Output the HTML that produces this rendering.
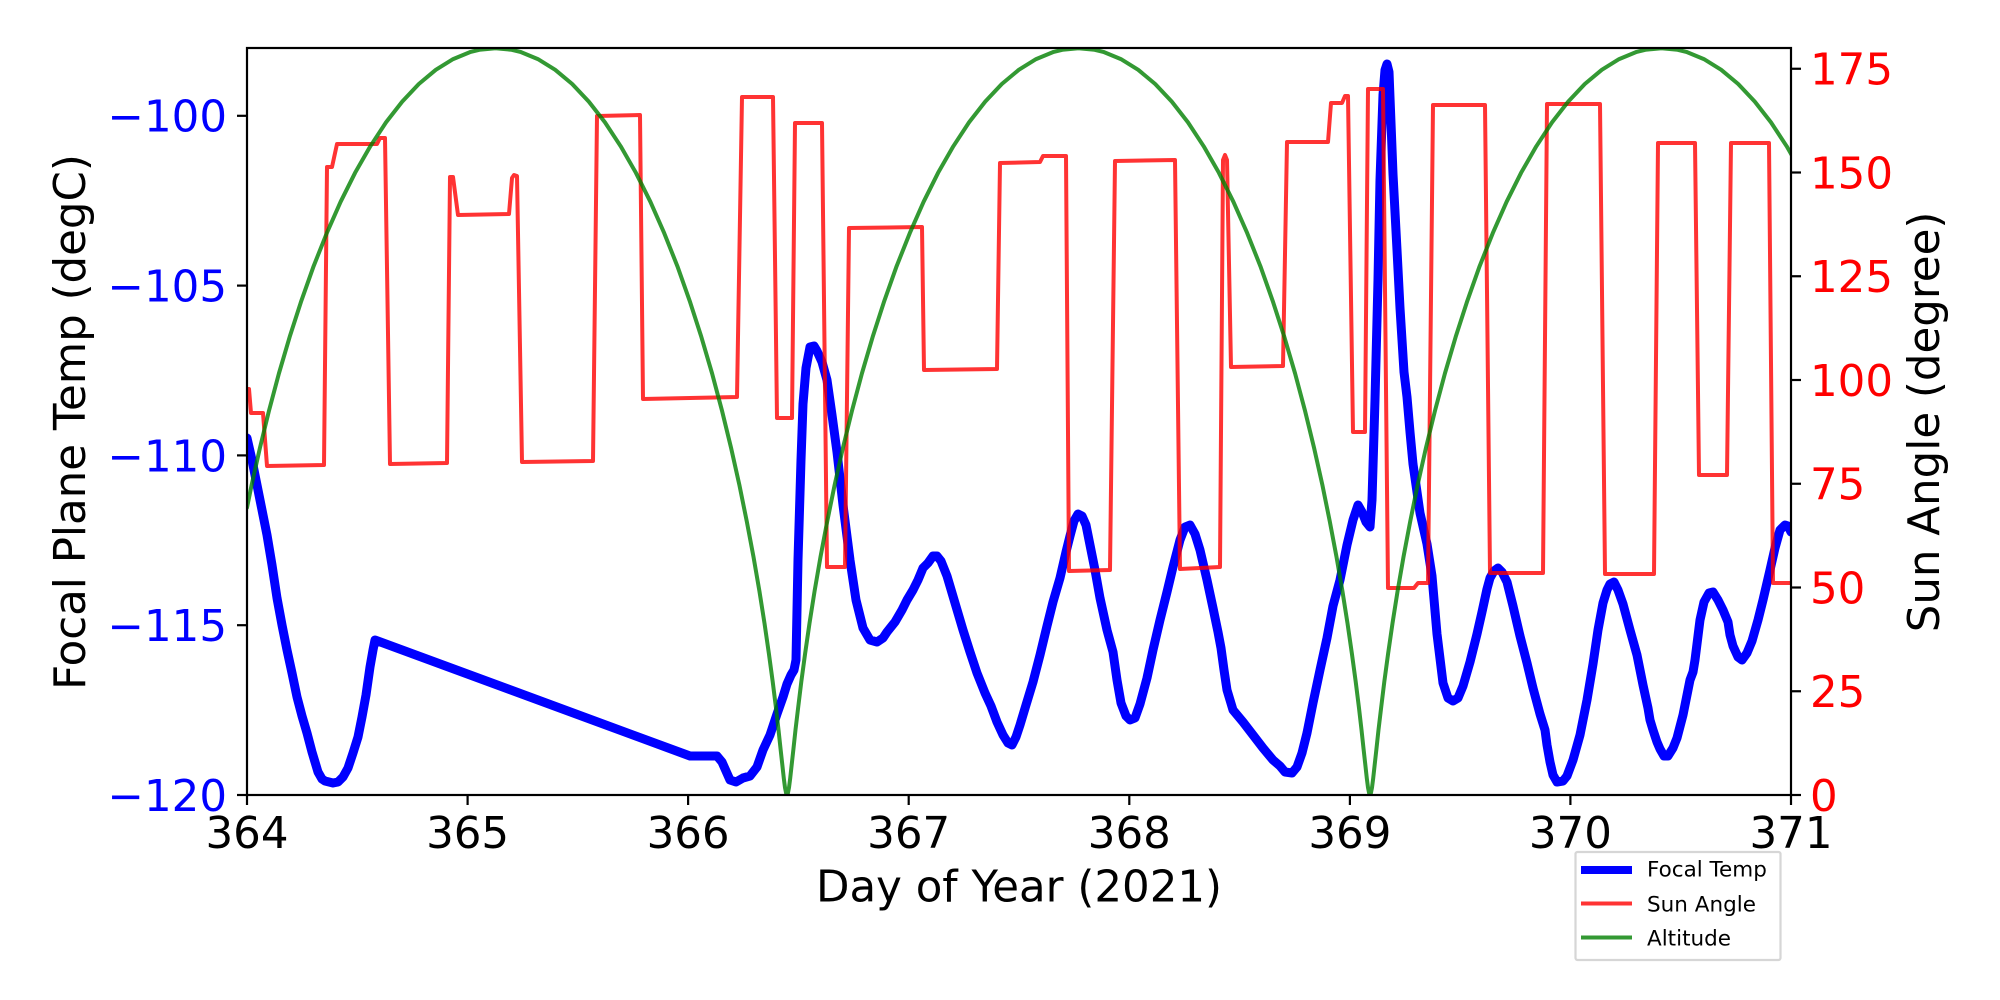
<!DOCTYPE html>
<html>
<head>
<meta charset="utf-8">
<style>
html,body{margin:0;padding:0;background:#fff;}
svg{display:block;}
text{font-family:"DejaVu Sans","Liberation Sans",sans-serif;}
</style>
</head>
<body>
<svg width="2000" height="1000" viewBox="0 0 2000 1000" xmlns="http://www.w3.org/2000/svg">
<rect x="0" y="0" width="2000" height="1000" fill="#fff"/>
<defs>
<clipPath id="ax"><rect x="247" y="48" width="1544" height="747"/></clipPath>
</defs>

<g clip-path="url(#ax)" fill="none" stroke-linejoin="round" stroke-linecap="round">
<!-- Focal Temp -->
<polyline stroke="#0000ff" stroke-width="9" points="247,438 252,460 258,490 263,515 267,535 272,565 277,598 282,625 287,650 292,673 297,697 302,716 307,733 312,752 318,772 322,779 325,781 333,783 338,782 343,777 348,768 353,753 358,737 362,717 366,695 370,667 373,650 375,640 690,756 717,756 722,762 730,780 736,782 743,778 750,776 757,767 763,750 770,735 777,714 783,697 787,684 791,675 794,670 796,660 798,560 801,460 803,404 806,368 810,347 814,346 817,351 822,362 827,380 832,415 837,452 843,505 850,560 856,600 863,628 870,640 877,642 883,638 887,632 895,622 902,610 907,600 913,590 918,580 923,568 928,563 933,556 937,556 941,561 947,576 955,603 963,630 970,652 977,673 985,693 991,706 997,722 1003,735 1008,743 1012,745 1016,737 1020,725 1026,705 1033,682 1040,655 1047,626 1053,602 1060,578 1066,552 1070,536 1074,521 1078,514 1082,516 1086,525 1090,545 1095,570 1100,598 1107,630 1113,652 1117,680 1121,703 1126,716 1130,720 1135,718 1140,704 1147,678 1153,650 1160,620 1167,592 1173,567 1180,540 1185,527 1190,525 1195,534 1200,550 1207,580 1213,608 1218,632 1221,648 1224,670 1227,690 1233,710 1243,722 1253,735 1263,748 1273,760 1280,766 1285,772 1292,773 1297,767 1302,753 1307,733 1313,703 1320,670 1327,638 1333,606 1340,580 1347,545 1353,520 1358,505 1362,512 1366,522 1370,527 1372,500 1375,400 1378,280 1380,180 1383,95 1385,70 1387,64 1389,72 1393,174 1397,250 1400,308 1404,372 1407,397 1410,432 1413,464 1417,492 1420,513 1427,544 1432,576 1437,634 1443,683 1448,698 1453,701 1458,698 1463,686 1470,662 1477,634 1482,612 1487,589 1490,578 1494,571 1498,568 1502,572 1507,582 1513,606 1520,636 1527,663 1533,688 1540,714 1545,730 1547,745 1550,762 1553,775 1557,782 1563,781 1567,776 1573,760 1580,735 1587,700 1593,664 1598,630 1603,603 1607,590 1610,584 1614,582 1618,590 1623,604 1630,630 1637,655 1643,685 1648,708 1650,720 1653,730 1657,742 1660,749 1664,756 1668,756 1673,748 1677,738 1683,715 1690,680 1693,672 1695,660 1700,620 1704,602 1709,593 1713,592 1718,600 1723,610 1728,622 1730,635 1733,646 1738,657 1742,660 1747,653 1752,641 1758,620 1763,600 1770,570 1775,548 1780,530 1785,525 1788,526 1791,532"/>
<!-- Sun Angle -->
<polyline stroke="#ff0000" stroke-opacity="0.8" stroke-width="4" points="247,389 249,389 251,413 263,413 267,466 324,465 327,167 332,167 337,144 377,144 380,138 385,138 390,464 447,463 450,177 453,177 458,215 509,214 512,178 514,175 517,176 522,462 593,461 597,116 640,115 643,399 737,397 742,97 773,97 777,418 792,418 795,123 822,123 827,567 845,567 849,228 922,227 924,370 997,369 1000,163 1040,162 1043,156 1066,156 1069,571 1110,570 1115,161 1175,160 1180,569 1220,567 1223,160 1225,155 1227,160 1231,367 1283,366 1287,142 1328,142 1331,103 1342,103 1345,96 1348,96 1353,432 1365,432 1368,89 1383,89 1388,588 1414,588 1418,583 1428,583 1433,105 1485,105 1490,573 1543,573 1547,104 1600,104 1605,574 1654,574 1658,143 1695,143 1699,475 1727,475 1731,143 1769,143 1773,583 1791,583"/>
<!-- Altitude -->
<polyline stroke="#008000" stroke-opacity="0.8" stroke-width="4" points="247,507.6 251.6,485.1 259.9,448.0 269.0,410.7 278.9,373.5 289.7,336.8 301.3,300.9 313.6,266.2 326.8,233.1 340.6,201.8 355.1,172.8 370.3,146.3 386.0,122.4 402.2,101.6 418.8,84.0 435.8,69.8 453.1,59.1 470.6,51.9 479.4,49.8 495.5,48.2 511.6,49.8 520.4,51.9 537.9,59.1 555.2,69.8 572.2,84.0 588.8,101.6 605.0,122.4 620.7,146.3 635.9,172.8 650.4,201.8 664.2,233.1 677.4,266.2 689.7,300.9 701.3,336.8 712.1,373.5 722.0,410.7 731.1,448.0 739.4,485.1 746.8,521.5 753.5,556.9 759.4,591.0 764.5,623.3 768.9,653.7 772.7,681.7 775.9,707.2 778.5,729.8 780.6,749.3 782.4,765.5 783.8,778.3 785.0,787.6 786.1,793.1 787,795 787.9,793.1 789.0,787.6 790.2,778.3 791.6,765.5 793.4,749.3 795.5,729.8 798.2,707.2 801.3,681.7 805.1,653.7 809.5,623.3 814.6,591.0 820.5,556.9 827.2,521.5 834.6,485.1 842.9,448.0 852.0,410.7 861.9,373.5 872.7,336.8 884.3,300.9 896.6,266.2 909.8,233.1 923.6,201.8 938.1,172.8 953.3,146.3 969.0,122.4 985.2,101.6 1001.8,84.0 1018.8,69.8 1036.1,59.1 1053.6,51.9 1062.4,49.8 1078.5,48.2 1094.6,49.8 1103.4,51.9 1120.9,59.1 1138.2,69.8 1155.2,84.0 1171.8,101.6 1188.0,122.4 1203.7,146.3 1218.9,172.8 1233.4,201.8 1247.2,233.1 1260.4,266.2 1272.7,300.9 1284.3,336.8 1295.1,373.5 1305.0,410.7 1314.1,448.0 1322.4,485.1 1329.8,521.5 1336.5,556.9 1342.4,591.0 1347.5,623.3 1351.9,653.7 1355.7,681.7 1358.9,707.2 1361.5,729.8 1363.6,749.3 1365.4,765.5 1366.8,778.3 1368.0,787.6 1369.1,793.1 1370,795 1370.9,793.1 1372.0,787.6 1373.2,778.3 1374.6,765.5 1376.4,749.3 1378.5,729.8 1381.2,707.2 1384.3,681.7 1388.1,653.7 1392.5,623.3 1397.6,591.0 1403.5,556.9 1410.2,521.5 1417.6,485.1 1425.9,448.0 1435.0,410.7 1444.9,373.5 1455.7,336.8 1467.3,300.9 1479.6,266.2 1492.8,233.1 1506.6,201.8 1521.1,172.8 1536.3,146.3 1552.0,122.4 1568.2,101.6 1584.8,84.0 1601.8,69.8 1619.1,59.1 1636.6,51.9 1645.4,49.8 1661.5,48.2 1677.6,49.8 1686.4,51.9 1703.9,59.1 1721.2,69.8 1738.2,84.0 1754.8,101.6 1771.0,122.4 1786.7,146.3 1801.9,172.8"/>
</g>

<!-- axes frame -->
<rect x="247" y="48" width="1544" height="747" fill="none" stroke="#000" stroke-width="2.2"/>

<g stroke="#000" stroke-width="2.2">
<line x1="237" y1="115.8" x2="247" y2="115.8"/>
<line x1="237" y1="285.6" x2="247" y2="285.6"/>
<line x1="237" y1="455.4" x2="247" y2="455.4"/>
<line x1="237" y1="625.2" x2="247" y2="625.2"/>
<line x1="237" y1="795" x2="247" y2="795"/>
<line x1="1791" y1="795" x2="1801" y2="795"/>
<line x1="1791" y1="691.25" x2="1801" y2="691.25"/>
<line x1="1791" y1="587.5" x2="1801" y2="587.5"/>
<line x1="1791" y1="483.75" x2="1801" y2="483.75"/>
<line x1="1791" y1="380" x2="1801" y2="380"/>
<line x1="1791" y1="276.25" x2="1801" y2="276.25"/>
<line x1="1791" y1="172.5" x2="1801" y2="172.5"/>
<line x1="1791" y1="68.75" x2="1801" y2="68.75"/>
<line x1="247" y1="795" x2="247" y2="805"/>
<line x1="467.6" y1="795" x2="467.6" y2="805"/>
<line x1="688.1" y1="795" x2="688.1" y2="805"/>
<line x1="908.7" y1="795" x2="908.7" y2="805"/>
<line x1="1129.3" y1="795" x2="1129.3" y2="805"/>
<line x1="1349.9" y1="795" x2="1349.9" y2="805"/>
<line x1="1570.4" y1="795" x2="1570.4" y2="805"/>
<line x1="1791" y1="795" x2="1791" y2="805"/>
</g>

<g fill="#0000ff" font-size="43.5" text-anchor="end">
<text x="227" y="131.7">−100</text>
<text x="227" y="301.5">−105</text>
<text x="227" y="471.3">−110</text>
<text x="227" y="641.1">−115</text>
<text x="227" y="810.9">−120</text>
</g>

<g fill="#ff0000" font-size="43.5" text-anchor="start">
<text x="1810" y="810.9">0</text>
<text x="1810" y="707.1">25</text>
<text x="1810" y="603.4">50</text>
<text x="1810" y="499.6">75</text>
<text x="1810" y="395.9">100</text>
<text x="1810" y="292.1">125</text>
<text x="1810" y="188.4">150</text>
<text x="1810" y="84.6">175</text>
</g>

<g fill="#000" font-size="43.5" text-anchor="middle">
<text x="247" y="848">364</text>
<text x="467.6" y="848">365</text>
<text x="688.1" y="848">366</text>
<text x="908.7" y="848">367</text>
<text x="1129.3" y="848">368</text>
<text x="1349.9" y="848">369</text>
<text x="1570.4" y="848">370</text>
<text x="1791" y="848">371</text>
</g>

<text x="1019" y="901.5" font-size="43.5" text-anchor="middle" fill="#000">Day of Year (2021)</text>
<text transform="translate(85,422) rotate(-90)" font-size="43.5" text-anchor="middle" fill="#000">Focal Plane Temp (degC)</text>
<text transform="translate(1939,422) rotate(-90)" font-size="43.5" text-anchor="middle" fill="#000">Sun Angle (degree)</text>

<rect x="1575.5" y="852" width="205" height="108" rx="2" fill="#fff" stroke="#d6d6d6" stroke-width="2.2"/>
<line x1="1581" y1="870" x2="1632" y2="870" stroke="#0000ff" stroke-width="8"/>
<line x1="1581" y1="903.5" x2="1632" y2="903.5" stroke="#ff0000" stroke-opacity="0.8" stroke-width="4"/>
<line x1="1581" y1="937.5" x2="1632" y2="937.5" stroke="#008000" stroke-opacity="0.8" stroke-width="4"/>
<g font-size="21.5" fill="#000">
<text x="1647" y="876.5">Focal Temp</text>
<text x="1647" y="911.5">Sun Angle</text>
<text x="1647" y="945.5">Altitude</text>
</g>
</svg>
</body>
</html>
